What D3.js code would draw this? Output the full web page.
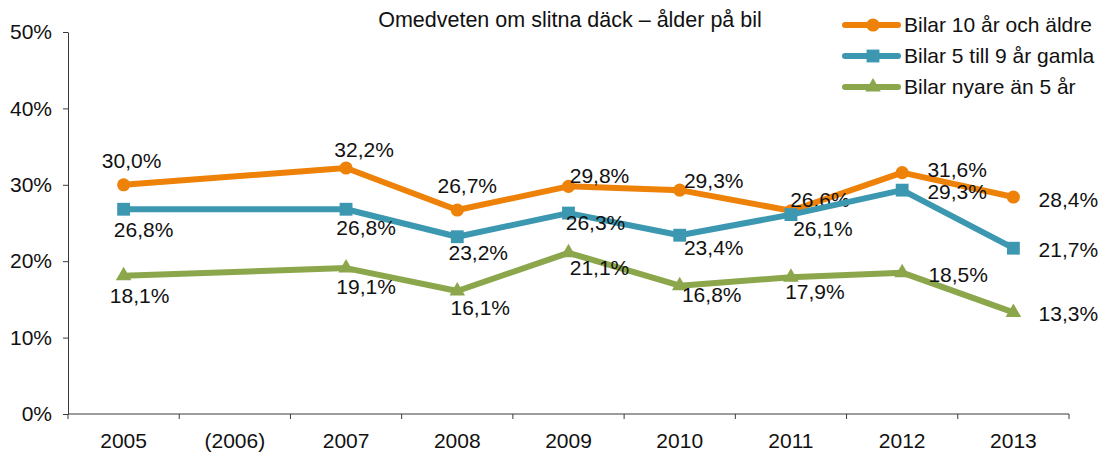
<!DOCTYPE html>
<html>
<head>
<meta charset="utf-8">
<script src="https://cdn.jsdelivr.net/npm/d3@7"></script>
<style>
  body { margin: 0; background: #fff; }
  svg { font-family: "Liberation Sans", Arial, Helvetica, sans-serif; }
  .axis path, .axis line { stroke: #3a3a3a; }
  .axis text { font-size: 21px; fill: #111; }
</style>
</head>
<body>
<div id="chart"></div>
<script>
// Categories on the x axis (2006 has no data)
const years = ['2005', '(2006)', '2007', '2008', '2009', '2010', '2011', '2012', '2013'];

// Series values in percent, null where missing
const older10 = [30.0, null, 32.2, 26.7, 29.8, 29.3, 26.6, 31.6, 28.4];
const age5to9 = [26.8, null, 26.8, 23.2, 26.3, 23.4, 26.1, 29.3, 21.7];
const newer5  = [18.1, null, 19.1, 16.1, 21.1, 16.8, 17.9, 18.5, 13.3];

const seriesNames = ['Bilar 10 år och äldre', 'Bilar 5 till 9 år gamla', 'Bilar nyare än 5 år'];
const yTicks = [0, 10, 20, 30, 40, 50];
const title = 'Omedveten om slitna däck – ålder på bil';

// Label placement (dx, dy from the point) for each series
const labelOffsets = [
  [[8, -24], null, [18, -18], [10, -24], [31, -11], [34, -9], [29, -11], [55, -3], [55, 3]],
  [[20, 20], null, [20, 18], [21, 16], [27, 10], [34, 12], [32, 14], [55, 2], [55, 1]],
  [[16, 20], null, [20, 19], [23, 17], [31, 15], [32, 9], [24, 14], [56, 2], [55, 1]]
];

const colors = ['#EE8208', '#3C98B1', '#8BA64B'];
const shapes = [d3.symbolCircle, d3.symbolSquare, d3.symbolTriangle];
const shapeSizes = [135, 165, 105];

const W = 1103, H = 452;
const margin = {top: 32, right: 34, bottom: 38, left: 68};
const width = W - margin.left - margin.right;
const height = H - margin.top - margin.bottom;

const svg = d3.select('#chart').append('svg')
  .attr('width', W)
  .attr('height', H);

const g = svg.append('g')
  .attr('transform', 'translate(' + margin.left + ',' + margin.top + ')');

const x = d3.scaleBand().domain(years).range([0, width]).padding(0);
const y = d3.scaleLinear().domain([0, 50]).range([height, 0]);
const cx = d => x(d) + x.bandwidth() / 2;

// y axis
g.append('g')
  .attr('class', 'axis axis-y')
  .call(d3.axisLeft(y).tickValues(yTicks).tickFormat(d => d + '%').tickSize(5).tickSizeOuter(0).tickPadding(11));

// x axis: labels at band centres, ticks at band boundaries
const xAxis = g.append('g')
  .attr('class', 'axis axis-x')
  .attr('transform', 'translate(0,' + height + ')')
  .call(d3.axisBottom(x).tickSize(0).tickSizeOuter(0).tickPadding(19));
xAxis.selectAll('.tick-b')
  .data(years.concat(['end']))
  .enter().append('line')
  .attr('class', 'tick-b')
  .attr('x1', (d, i) => i < years.length ? x(d) : width)
  .attr('x2', (d, i) => i < years.length ? x(d) : width)
  .attr('y1', 0)
  .attr('y2', 5)
  .attr('stroke', '#3a3a3a');
xAxis.select('.domain').attr('d', 'M0,0H' + width);

// lines, markers, labels
const allSeries = [older10, age5to9, newer5];
allSeries.forEach((values, s) => {
  const pts = values.map((v, i) => ({year: years[i], value: v, i: i})).filter(d => d.value !== null);

  const line = d3.line()
    .x(d => cx(d.year))
    .y(d => y(d.value));

  g.append('path')
    .datum(pts)
    .attr('fill', 'none')
    .attr('stroke', colors[s])
    .attr('stroke-width', 6)
    .attr('stroke-linejoin', 'round')
    .attr('d', line);

  g.selectAll('.marker-' + s)
    .data(pts)
    .enter().append('path')
    .attr('class', 'marker-' + s)
    .attr('transform', d => 'translate(' + cx(d.year) + ',' + y(d.value) + ')')
    .attr('d', d3.symbol().type(shapes[s]).size(shapeSizes[s]))
    .attr('fill', colors[s]);

  g.selectAll('.label-' + s)
    .data(pts)
    .enter().append('text')
    .attr('class', 'label-' + s)
    .attr('x', d => cx(d.year) + labelOffsets[s][d.i][0])
    .attr('y', d => y(d.value) + labelOffsets[s][d.i][1])
    .attr('dy', '0.35em')
    .attr('text-anchor', 'middle')
    .style('font-size', '21px')
    .attr('fill', '#111')
    .text(d => d.value.toFixed(1).replace('.', ',') + '%');
});

// title
svg.append('text')
  .attr('x', 570)
  .attr('y', 27)
  .attr('text-anchor', 'middle')
  .style('font-size', '21.5px')
  .attr('fill', '#111')
  .text(title);

// legend
const legend = svg.append('g').attr('transform', 'translate(845,0)');
seriesNames.forEach((name, s) => {
  const ly = 25 + s * 31;
  legend.append('line')
    .attr('x1', 0).attr('x2', 53)
    .attr('y1', ly).attr('y2', ly)
    .attr('stroke', colors[s])
    .attr('stroke-width', 6)
    .attr('stroke-linecap', 'round');
  legend.append('path')
    .attr('transform', 'translate(28,' + ly + ')')
    .attr('d', d3.symbol().type(shapes[s]).size(shapeSizes[s]))
    .attr('fill', colors[s]);
  legend.append('text')
    .attr('x', 59)
    .attr('y', ly)
    .attr('dy', '0.35em')
    .style('font-size', '21px')
    .attr('fill', '#111')
    .text(name);
});
</script>
</body>
</html>
